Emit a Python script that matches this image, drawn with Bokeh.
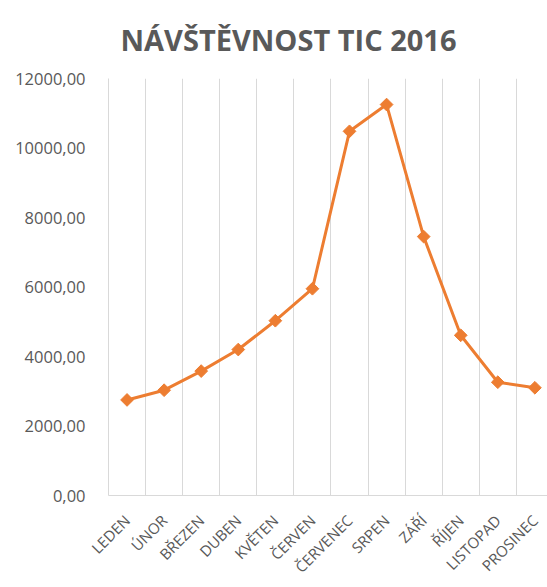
import math
from bokeh.plotting import figure
from bokeh.models import (ColumnDataSource, FixedTicker, CustomJSTickFormatter, Range1d)
from bokeh.embed import file_html
from bokeh.resources import INLINE

title_text = "NÁVŠTĚVNOST TIC 2016"
months = ["LEDEN", "ÚNOR", "BŘEZEN", "DUBEN", "KVĚTEN", "ČERVEN",
          "ČERVENEC", "SRPEN", "ZÁŘÍ", "ŘÍJEN", "LISTOPAD", "PROSINEC"]
visitors = [2750, 3030, 3580, 4200, 5030, 5950, 10480, 11250, 7450, 4610, 3260, 3100]
y_ticks = [0, 2000, 4000, 6000, 8000, 10000, 12000]

xs = list(range(len(months)))
src = ColumnDataSource(dict(x=xs, y=visitors, m=months))

GRAY = "#595959"
GRID = "#d9d9d9"
ORANGE = "#ED7D31"

p = figure(width=547, height=586, output_backend="svg", toolbar_location=None,
           x_range=Range1d(-0.5, 11.34), y_range=Range1d(0, 12000),
           min_border_left=108, min_border_right=0, min_border_top=78,
           min_border_bottom=91)
p.outline_line_color = None
p.background_fill_color = "white"
p.border_fill_color = "white"

p.line("x", "y", source=src, line_color=ORANGE, line_width=3)
p.scatter("x", "y", source=src, marker="square", angle=math.pi / 4, size=9,
          fill_color=ORANGE, line_color=ORANGE)

# title
p.title.text = title_text
p.title.align = "left"
p.title.vertical_align = "top"
p.title.offset = 12
p.title.standoff = 36
p.title.text_font = "Open Sans"
p.title.text_font_style = "bold"
p.title.text_font_size = "29px"
p.title.text_color = GRAY

# x axis
p.xaxis.ticker = FixedTicker(ticks=xs)
p.xaxis.major_label_overrides = {i: m for i, m in enumerate(months)}
p.xaxis.major_label_orientation = math.pi / 4
p.xaxis.major_tick_line_color = None
p.xaxis.minor_tick_line_color = None
p.xaxis.axis_line_color = GRID
p.xaxis.major_label_text_color = GRAY
p.xaxis.major_label_text_font = "Open Sans"
p.xaxis.major_label_text_font_size = "15px"
p.xaxis.major_label_standoff = 16

# y axis
p.yaxis.ticker = FixedTicker(ticks=y_ticks)
p.yaxis.formatter = CustomJSTickFormatter(code="return tick.toFixed(2).replace('.', ',');")
p.yaxis.axis_line_color = GRID
p.yaxis.major_tick_line_color = None
p.yaxis.minor_tick_line_color = None
p.yaxis.major_label_text_color = GRAY
p.yaxis.major_label_text_font = "Open Sans"
p.yaxis.major_label_text_font_size = "16.5px"
p.yaxis.major_label_standoff = 17

# grids
p.ygrid.grid_line_color = None
p.xgrid.ticker = FixedTicker(ticks=[i - 0.5 for i in range(len(months) + 1)])
p.xgrid.grid_line_color = GRID
p.xgrid.grid_line_width = 1

open("out.html", "w").write(file_html(p, INLINE))
